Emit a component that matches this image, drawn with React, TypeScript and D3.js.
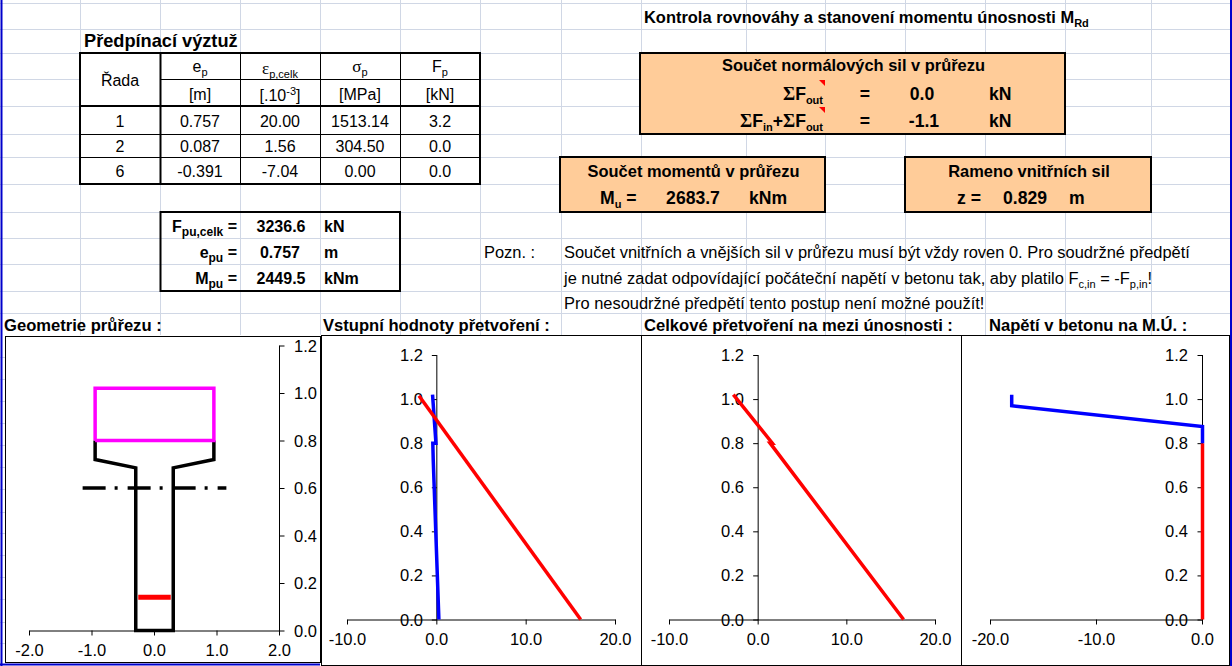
import React from "react";
import * as d3 from "d3";

type Pt = [number, number];
type Part = string | [string, "sub" | "sup"] | [string, "sym"];

// ---- data
const rowIds = ["1", "2", "6"];
const epValues = ["0.757", "0.087", "-0.391"];
const epsValues = ["20.00", "1.56", "-7.04"];
const sigmaValues = ["1513.14", "304.50", "0.00"];
const fpValues = ["3.2", "0.0", "0.0"];

const yTicks = [0, 0.2, 0.4, 0.6, 0.8, 1.0, 1.2];
const geomXTicks = [-2, -1, 0, 1, 2];
const strainXTicks = [-10, 0, 10, 20];
const stressXTicks = [-20, -10, 0];

const geomOutline: Pt[] = [[-0.95, 0.8], [-0.95, 0.72], [-0.3, 0.685], [-0.3, 0], [0.3, 0], [0.3, 0.685], [0.95, 0.72], [0.95, 0.8]];
const geomFlange: Pt[] = [[-0.95, 0.8], [-0.95, 1.02], [0.95, 1.02], [0.95, 0.8], [-0.95, 0.8]];
const geomAxis: Pt[] = [[-1.15, 0.6], [1.15, 0.6]];
const geomTendon: Pt[] = [[-0.26, 0.14], [0.26, 0.14]];

const inputBlue: Pt[] = [[-0.48, 1.02], [-0.1, 0.8], [-0.45, 0.8], [-0.4, 0.72], [0.23, 0]];
const inputRed: Pt[] = [[-2.0, 1.015], [16.1, 0]];
const totalRed: Pt[] = [[-2.8, 1.02], [1.6, 0.8], [1.35, 0.8], [16.4, 0]];
const stressBlue: Pt[] = [[-18, 1.02], [-18, 0.97], [0, 0.875], [0, 0.8]];
const stressRed: Pt[] = [[0, 0.8], [0, 0]];

const gridX = [80, 160, 240, 320, 400, 480, 561, 641, 746, 825, 905, 985, 1065, 1151];
const gridY = [3, 29, 53, 79, 106, 134, 157, 184, 212, 238, 264, 291, 313];
const marginGridY = [357, 379, 401, 423, 445, 467, 489, 512, 533, 555, 577, 599, 622, 643];

const SANS = "'Liberation Sans', Arial, sans-serif";
const SERIF = "'Liberation Serif', serif";
const ORANGE = "#FFCC99";
const GRID = "#D0D7E5";
const BLUE = "#0000FF";
const RED = "#FF0000";
const MAGENTA = "#FF00FF";

function Rich({ x, y, parts, anchor = "start", size = 16, bold = false, sub = 11, spacing = 0 }: any) {
  let prev = 0;
  return (
    <text x={x} y={y} textAnchor={anchor} fontFamily={SANS} fontSize={size} fontWeight={bold ? 700 : 400} fill="#000" letterSpacing={spacing}>
      {(parts as Part[]).map((p, i) => {
        const str = typeof p === "string" ? p : p[0];
        const kind = typeof p === "string" ? "" : p[1];
        const off = kind === "sub" ? 4 : kind === "sup" ? -6 : 0;
        const dy = off - prev;
        prev = off;
        return (
          <tspan key={i} dy={dy} fontSize={kind === "sub" || kind === "sup" ? sub : kind === "sym" ? size + 1 : size} fontFamily={kind === "sym" ? SERIF : SANS}>
            {str}
          </tspan>
        );
      })}
    </text>
  );
}

const lineGen = (xs: any, ys: any) => d3.line<Pt>().x((d) => xs(d[0])).y((d) => ys(d[1]));

function Poly({ pts, xs, ys, color, width, dash }: any) {
  return (
    <path d={lineGen(xs, ys)(pts) as string} fill="none" stroke={color} strokeWidth={width} strokeDasharray={dash} strokeLinejoin="miter" />
  );
}

function Axes({ xs, ys, xTicks, yAt, side, yLabelX }: any) {
  const [x0, x1] = xs.range();
  const [y0, y1] = ys.range();
  const ax = xs(yAt);
  const tickDir = side === "right" ? 5 : -5;
  return (
    <g>
      <line x1={x0} x2={x1} y1={y0 + 0.5} y2={y0 + 0.5} stroke="#000" />
      <line x1={ax} x2={ax} y1={y0 + 0.5} y2={y1} stroke="#000" />
      {xTicks.map((t: number) => (
        <g key={t}>
          <line x1={xs(t)} x2={xs(t)} y1={y0} y2={y0 + 5} stroke="#000" />
          <text x={xs(t)} y={y0 + 25} textAnchor="middle" fontFamily={SANS} fontSize={16.5} fill="#000">
            {t.toFixed(1)}
          </text>
        </g>
      ))}
      {yTicks.map((t) => (
        <g key={t}>
          <line x1={ax} x2={ax + tickDir} y1={ys(t) + 0.5} y2={ys(t) + 0.5} stroke="#000" />
          <text x={yLabelX} y={ys(t) + 6} textAnchor="end" fontFamily={SANS} fontSize={16.5} fill="#000">
            {t.toFixed(1)}
          </text>
        </g>
      ))}
    </g>
  );
}

function OrangeBox({ x, y, w, h }: any) {
  return <rect x={x} y={y} width={w} height={h} fill={ORANGE} stroke="#000" strokeWidth={2} />;
}

export default function App() {
  const colX = [80, 160, 240, 320, 400, 480];
  const bodyBase = [127, 152, 177];
  const bodyCols = [rowIds, epValues, epsValues, sigmaValues, fpValues];

  const yStrain = d3.scaleLinear().domain([0, 1.2]).range([619.5, 355]);
  const yGeom = d3.scaleLinear().domain([0, 1.2]).range([630.5, 345.5]);
  const xGeom = d3.scaleLinear().domain([-2, 2]).range([29.5, 279.5]);
  const xInput = d3.scaleLinear().domain([-10, 20]).range([347.5, 615.5]);
  const xTotal = d3.scaleLinear().domain([-10, 20]).range([669.5, 935.5]);
  const xStress = d3.scaleLinear().domain([-20, 0]).range([990.5, 1202.5]);

  const boxSize = 17.6;
  const textSize = 16.45;
  const titleSize = 16.6;
  const lineW = 3.5;

  return (
    <div style={{ position: "fixed", left: 0, top: 0, width: 1232, height: 666, overflow: "hidden", background: "#fff" }}>
      <svg width={1232} height={666} viewBox="0 0 1232 666" style={{ display: "block" }}>
        <rect width={1232} height={666} fill="#fff" />
        {/* sheet grid */}
        <g stroke={GRID} strokeWidth={1}>
          {gridX.map((x) => <line key={x} x1={x + 0.5} x2={x + 0.5} y1={0} y2={335} />)}
          {gridY.map((y) => <line key={y} x1={0} x2={1232} y1={y + 0.5} y2={y + 0.5} />)}
          {marginGridY.map((y) => <line key={y} x1={0} x2={5} y1={y + 0.5} y2={y + 0.5} />)}
        </g>

        {/* prestress table */}
        <Rich x={84} y={47} parts={["Předpínací výztuž"]} bold size={18.2} />
        <rect x={80} y={53} width={400} height={131} fill="#fff" />
        <g stroke="#000">
          {colX.slice(1, 5).map((x, i) => <line key={x} x1={x + 0.5} x2={x + 0.5} y1={53} y2={184} strokeWidth={i === 0 ? 2 : 1} />)}
          <line x1={160} x2={480} y1={79.5} y2={79.5} />
          <line x1={80} x2={480} y1={106} y2={106} strokeWidth={2} />
          <line x1={80} x2={480} y1={134.5} y2={134.5} />
          <line x1={80} x2={480} y1={157.5} y2={157.5} />
          <rect x={80} y={53} width={400} height={131} fill="none" strokeWidth={2} />
        </g>
        <Rich x={120} y={86} anchor="middle" parts={["Řada"]} />
        <Rich x={200} y={72} anchor="middle" parts={["e", ["p", "sub"]]} />
        <Rich x={280} y={74} anchor="middle" parts={[["ε", "sym"], ["p,celk", "sub"]]} />
        <Rich x={360} y={72} anchor="middle" parts={[["σ", "sym"], ["p", "sub"]]} />
        <Rich x={440} y={72} anchor="middle" parts={["F", ["p", "sub"]]} />
        <Rich x={200} y={100} anchor="middle" parts={["[m]"]} />
        <Rich x={280} y={101} anchor="middle" parts={["[.10", ["-3", "sup"], "]"]} />
        <Rich x={360} y={100} anchor="middle" parts={["[MPa]"]} />
        <Rich x={440} y={100} anchor="middle" parts={["[kN]"]} />
        {bodyCols.map((col, c) =>
          col.map((v, r) => <Rich key={`${c}-${r}`} x={(colX[c] + colX[c + 1]) / 2} y={bodyBase[r]} anchor="middle" parts={[v]} />)
        )}

        {/* prestress result box */}
        <rect x={160} y={212} width={240} height={79} fill="#fff" />
        <line x1={240.5} x2={240.5} y1={212} y2={291} stroke={GRID} />
        <line x1={320.5} x2={320.5} y1={212} y2={291} stroke={GRID} />
        <line x1={160} x2={400} y1={238.5} y2={238.5} stroke={GRID} />
        <line x1={160} x2={400} y1={264.5} y2={264.5} stroke={GRID} />
        <rect x={160.5} y={212} width={239.5} height={79} fill="none" stroke="#000" strokeWidth={2} />
        <Rich x={237} y={232} anchor="end" bold sub={12} parts={["F", ["pu,celk", "sub"], " ="]} />
        <Rich x={237} y={258} anchor="end" bold sub={12} parts={["e", ["pu", "sub"], " ="]} />
        <Rich x={237} y={284} anchor="end" bold sub={12} parts={["M", ["pu", "sub"], " ="]} />
        <Rich x={281} y={232} anchor="middle" bold parts={["3236.6"]} />
        <Rich x={280} y={258} anchor="middle" bold parts={["0.757"]} />
        <Rich x={281} y={284} anchor="middle" bold parts={["2449.5"]} />
        <Rich x={324} y={232} bold parts={["kN"]} />
        <Rich x={324} y={258} bold parts={["m"]} />
        <Rich x={324} y={284} bold parts={["kNm"]} />

        {/* heading right */}
        <Rich x={644} y={23} bold size={textSize} sub={11} parts={["Kontrola rovnováhy a stanovení momentu únosnosti M", ["Rd", "sub"]]} />

        {/* box A */}
        <OrangeBox x={640} y={53} w={425} h={81} />
        <Rich x={853.5} y={71} anchor="middle" bold size={textSize} parts={["Součet normálových sil v průřezu"]} />
        <Rich x={823} y={100} anchor="end" bold size={boxSize} parts={[["Σ", "sym"], "F", ["out", "sub"]]} />
        <Rich x={823} y={127} anchor="end" bold size={boxSize} parts={[["Σ", "sym"], "F", ["in", "sub"], "+", ["Σ", "sym"], "F", ["out", "sub"]]} />
        <Rich x={865} y={100} anchor="middle" bold size={boxSize} parts={["="]} />
        <Rich x={865} y={127} anchor="middle" bold size={boxSize} parts={["="]} />
        <Rich x={922} y={100} anchor="middle" bold size={boxSize} parts={["0.0"]} />
        <Rich x={924} y={127} anchor="middle" bold size={boxSize} parts={["-1.1"]} />
        <Rich x={989} y={100} bold size={boxSize} parts={["kN"]} />
        <Rich x={989} y={127} bold size={boxSize} parts={["kN"]} />
        <path d="M819 80 L825 80 L825 86 Z" fill={RED} />
        <path d="M819 107 L825 107 L825 113 Z" fill={RED} />

        {/* box B */}
        <OrangeBox x={560} y={157} w={265} h={55} />
        <Rich x={693.5} y={176.5} anchor="middle" bold size={textSize} parts={["Součet momentů v průřezu"]} />
        <Rich x={600} y={204} bold size={boxSize} parts={["M", ["u", "sub"], " ="]} />
        <Rich x={693} y={204} anchor="middle" bold size={boxSize} parts={["2683.7"]} />
        <Rich x={749} y={204} bold size={boxSize} parts={["kNm"]} />

        {/* box C */}
        <OrangeBox x={905} y={157} w={246} h={55} />
        <Rich x={1029} y={176.5} anchor="middle" bold size={textSize} parts={["Rameno vnitřních sil"]} />
        <Rich x={957} y={204} bold size={boxSize} parts={["z ="]} />
        <Rich x={1025} y={204} anchor="middle" bold size={boxSize} parts={["0.829"]} />
        <Rich x={1069} y={204} bold size={boxSize} parts={["m"]} />

        {/* note */}
        <Rich x={484} y={258} size={textSize} parts={["Pozn. :"]} />
        <Rich x={564} y={258} size={textSize} parts={["Součet vnitřních a vnějších sil v průřezu musí být vždy roven 0. Pro soudržné předpětí"]} />
        <Rich x={564} y={284} size={textSize} sub={11} parts={["je nutné zadat odpovídající počáteční napětí v betonu tak, aby platilo F", ["c,in", "sub"], " = -F", ["p,in", "sub"], "!"]} />
        <Rich x={564} y={309} size={textSize} parts={["Pro nesoudržné předpětí tento postup není možné použít!"]} />

        {/* chart titles */}
        <Rich x={4} y={331} bold size={titleSize} parts={["Geometrie průřezu :"]} />
        <Rich x={323} y={331} bold size={titleSize} parts={["Vstupní hodnoty přetvoření :"]} />
        <Rich x={644} y={331} bold size={titleSize} parts={["Celkové přetvoření na mezi únosnosti :"]} />
        <Rich x={989} y={331} bold size={titleSize} parts={["Napětí v betonu na M.Ú. :"]} />

        {/* chart frames */}
        <rect x={5.5} y={336.5} width={315} height={326} fill="#fff" stroke="#000" />
        <rect x={321.5} y={335.5} width={320} height={330} fill="#fff" stroke="#000" />
        <rect x={641.5} y={335.5} width={320} height={330} fill="#fff" stroke="#000" />
        <rect x={961.5} y={335.5} width={268} height={330} fill="#fff" stroke="#000" />

        {/* chart 1 */}
        <Axes xs={xGeom} ys={yGeom} xTicks={geomXTicks} yAt={2} side="right" yLabelX={317} />
        <Poly pts={geomOutline} xs={xGeom} ys={yGeom} color="#000" width={lineW} />
        <Poly pts={geomFlange} xs={xGeom} ys={yGeom} color={MAGENTA} width={lineW} />
        <Poly pts={geomAxis} xs={xGeom} ys={yGeom} color="#000" width={lineW} dash="23 9 3 10" />
        <Poly pts={geomTendon} xs={xGeom} ys={yGeom} color={RED} width={5} />

        {/* chart 2 */}
        <Axes xs={xInput} ys={yStrain} xTicks={strainXTicks} yAt={0} side="left" yLabelX={423} />
        <Poly pts={inputBlue} xs={xInput} ys={yStrain} color={BLUE} width={lineW} />
        <Poly pts={inputRed} xs={xInput} ys={yStrain} color={RED} width={lineW} />

        {/* chart 3 */}
        <Axes xs={xTotal} ys={yStrain} xTicks={strainXTicks} yAt={0} side="left" yLabelX={744} />
        <Poly pts={totalRed} xs={xTotal} ys={yStrain} color={RED} width={lineW} />

        {/* chart 4 */}
        <Axes xs={xStress} ys={yStrain} xTicks={stressXTicks} yAt={0} side="left" yLabelX={1188} />
        <Poly pts={stressRed} xs={xStress} ys={yStrain} color={RED} width={lineW} />
        <Poly pts={stressBlue} xs={xStress} ys={yStrain} color={BLUE} width={lineW} />

        {/* window selection border */}
        <line x1={1.5} x2={1.5} y1={0} y2={666} stroke="#0000CC" strokeWidth={2} />
        <line x1={0} x2={320} y1={664.5} y2={664.5} stroke="#0000CC" strokeWidth={2} />
        <line x1={1231} x2={1231} y1={0} y2={666} stroke="#0000CC" strokeWidth={2} />
      </svg>
    </div>
  );
}
